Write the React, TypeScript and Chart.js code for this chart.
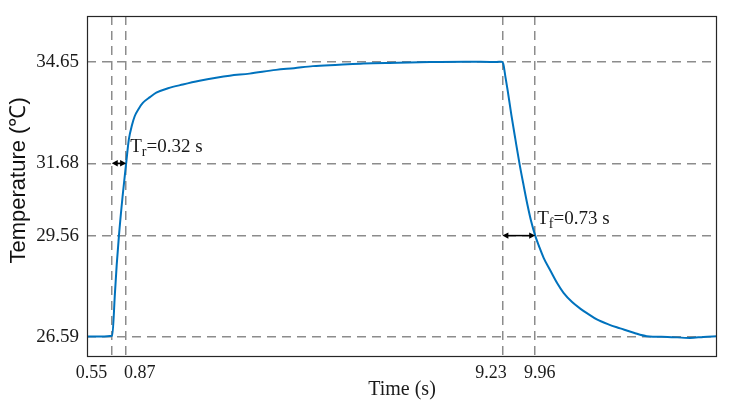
import { useEffect, useRef } from 'react';
import { Chart, registerables } from 'chart.js';

Chart.register(...registerables);

const timeS = [
  0, 0.3, 0.56, 0.62, 0.66, 0.71, 0.79, 0.87, 0.93, 1.0, 1.06, 1.15, 1.24, 1.4, 1.54, 1.8, 2.13, 2.5,
  2.87, 3.17, 3.61, 4.2, 4.6, 5.02, 5.6, 6.14, 6.9, 7.62, 8.4, 9.1, 9.21, 9.25, 9.3, 9.35, 9.43, 9.52,
  9.61, 9.7, 9.79, 9.87, 9.96, 10.05, 10.15, 10.29, 10.45, 10.59, 10.78, 10.96, 11.15, 11.33, 11.6,
  11.85, 12.15, 12.44, 12.9, 13.4, 13.7, 14.0,
];
const temperatureC = [
  26.6, 26.6, 26.62, 27.85, 28.7, 29.56, 30.7, 31.68, 32.38, 32.8, 33.06, 33.28, 33.45, 33.62, 33.75,
  33.88, 33.99, 34.1, 34.19, 34.25, 34.31, 34.42, 34.47, 34.53, 34.57, 34.61, 34.63, 34.65, 34.66,
  34.65, 34.66, 34.6, 34.2, 33.8, 33.1, 32.38, 31.68, 31.05, 30.45, 29.98, 29.56, 29.23, 28.9, 28.55,
  28.16, 27.88, 27.61, 27.42, 27.25, 27.1, 26.95, 26.84, 26.71, 26.61, 26.59, 26.56, 26.59, 26.61,
];

const xTickValues = [0.55, 0.87, 9.23, 9.96];
const xTickLabels = ['0.55', '0.87', '9.23', '9.96'];
const yTickValues = [26.59, 29.56, 31.68, 34.65];
const yTickLabels = ['26.59', '29.56', '31.68', '34.65'];

// [start time, end time, temperature level]
const riseSpan = [0.55, 0.87, 31.68];
const fallSpan = [9.23, 9.96, 29.56];
const riseLabel = ['T', 'r', '=0.32 s'];
const fallLabel = ['T', 'f', '=0.73 s'];

const SERIF = '"Liberation Serif", "Times New Roman", serif';
const SANS = '"Liberation Sans", Arial, sans-serif';

const overlayPlugin = {
  id: 'overlay',
  afterDatasetsDraw(chart: any) {
    const { ctx, chartArea: a, scales } = chart;
    const xs = scales.x;
    const ys = scales.y;
    ctx.save();
    // frame
    ctx.strokeStyle = '#262626';
    ctx.lineWidth = 1.2;
    ctx.strokeRect(a.left + 0.5, a.top + 0.5, a.right - a.left - 1, a.bottom - a.top - 1);

    const arrow = (span: number[]) => {
      const x1 = xs.getPixelForValue(span[0]);
      const x2 = xs.getPixelForValue(span[1]);
      const y = ys.getPixelForValue(span[2]);
      ctx.strokeStyle = '#000';
      ctx.fillStyle = '#000';
      ctx.lineWidth = 1.5;
      ctx.beginPath();
      ctx.moveTo(x1 + 3, y);
      ctx.lineTo(x2 - 3, y);
      ctx.stroke();
      const head = (x: number, dir: number) => {
        ctx.beginPath();
        ctx.moveTo(x, y);
        ctx.lineTo(x + dir * 6, y - 3.2);
        ctx.lineTo(x + dir * 6, y + 3.2);
        ctx.closePath();
        ctx.fill();
      };
      head(x1, 1);
      head(x2, -1);
    };
    arrow(riseSpan);
    arrow(fallSpan);

    const label = (span: number[], parts: string[], dx: number, dy: number) => {
      let x = xs.getPixelForValue(span[1]) + dx;
      const y = ys.getPixelForValue(span[2]) + dy;
      ctx.fillStyle = '#1a1a1a';
      ctx.textBaseline = 'alphabetic';
      ctx.textAlign = 'left';
      ctx.font = `19px ${SERIF}`;
      ctx.fillText(parts[0], x, y);
      x += ctx.measureText(parts[0]).width;
      ctx.font = `14px ${SERIF}`;
      ctx.fillText(parts[1], x, y + 4);
      x += ctx.measureText(parts[1]).width;
      ctx.font = `19px ${SERIF}`;
      ctx.fillText(parts[2], x, y);
    };
    label(riseSpan, riseLabel, 4, -11);
    label(fallSpan, fallLabel, 2, -11.5);
    ctx.restore();
  },
};

export default function App() {
  const ref = useRef<HTMLCanvasElement>(null);

  useEffect(() => {
    if (!ref.current) return;
    const gridColor = '#8c8c8c';
    const chart = new Chart(ref.current, {
      type: 'line',
      data: {
        datasets: [
          {
            data: timeS.map((t, i) => ({ x: t, y: temperatureC[i] })),
            borderColor: '#0072BD',
            borderWidth: 2,
            pointRadius: 0,
            cubicInterpolationMode: 'monotone',
            fill: false,
          },
        ],
      },
      options: {
        responsive: false,
        animation: false,
        devicePixelRatio: 1,
        layout: { padding: { top: 16, right: 14, bottom: 0, left: 0 } },
        plugins: { legend: { display: false }, tooltip: { enabled: false } },
        scales: {
          x: {
            type: 'linear',
            min: 0,
            max: 14,
            afterBuildTicks: (s: any) => {
              s.ticks = xTickValues.map((v) => ({ value: v }));
            },
            afterFit: (s: any) => {
              s.height = 47;
              s.paddingLeft = 0;
              s.paddingRight = 0;
            },
            ticks: {
              autoSkip: false,
              maxRotation: 0,
              minRotation: 0,
              padding: 5,
              color: '#1a1a1a',
              font: { family: SERIF, size: 18 },
              callback: (_v: any, i: number) => {
                const pad = [
                  [0, 9],
                  [6, 0],
                  [0, 5],
                  [2, 0],
                ][i];
                return ' '.repeat(pad[0]) + xTickLabels[i] + ' '.repeat(pad[1]);
              },
            },
            grid: { color: gridColor, lineWidth: 1.5, drawTicks: false },
            border: { display: false, dash: [9, 6] },
            title: {
              display: true,
              text: 'Time (s)',
              color: '#1a1a1a',
              font: { family: SERIF, size: 20 },
              padding: { top: 0, bottom: 2 },
            },
          },
          y: {
            type: 'linear',
            min: 26,
            max: 36,
            afterBuildTicks: (s: any) => {
              s.ticks = yTickValues.map((v) => ({ value: v }));
            },
            afterFit: (s: any) => {
              s.width = 87;
              s.paddingTop = 0;
              s.paddingBottom = 0;
            },
            ticks: {
              autoSkip: false,
              padding: 8,
              color: '#1a1a1a',
              font: { family: SERIF, size: 19 },
              callback: (_v: any, i: number) => yTickLabels[i],
            },
            grid: { color: gridColor, lineWidth: 1.5, drawTicks: false },
            border: { display: false, dash: [9, 6] },
            title: {
              display: true,
              text: '  Temperature (℃)',
              color: '#111',
              font: { family: SANS, size: 22 },
              padding: { top: 6, bottom: 0 },
            },
          },
        },
      },
      plugins: [overlayPlugin],
    } as any);
    return () => chart.destroy();
  }, []);

  return (
    <div style={{ position: 'fixed', left: 0, top: 0, width: 731, height: 404, background: '#fff' }}>
      <canvas ref={ref} width={731} height={404} style={{ display: 'block' }} />
    </div>
  );
}
